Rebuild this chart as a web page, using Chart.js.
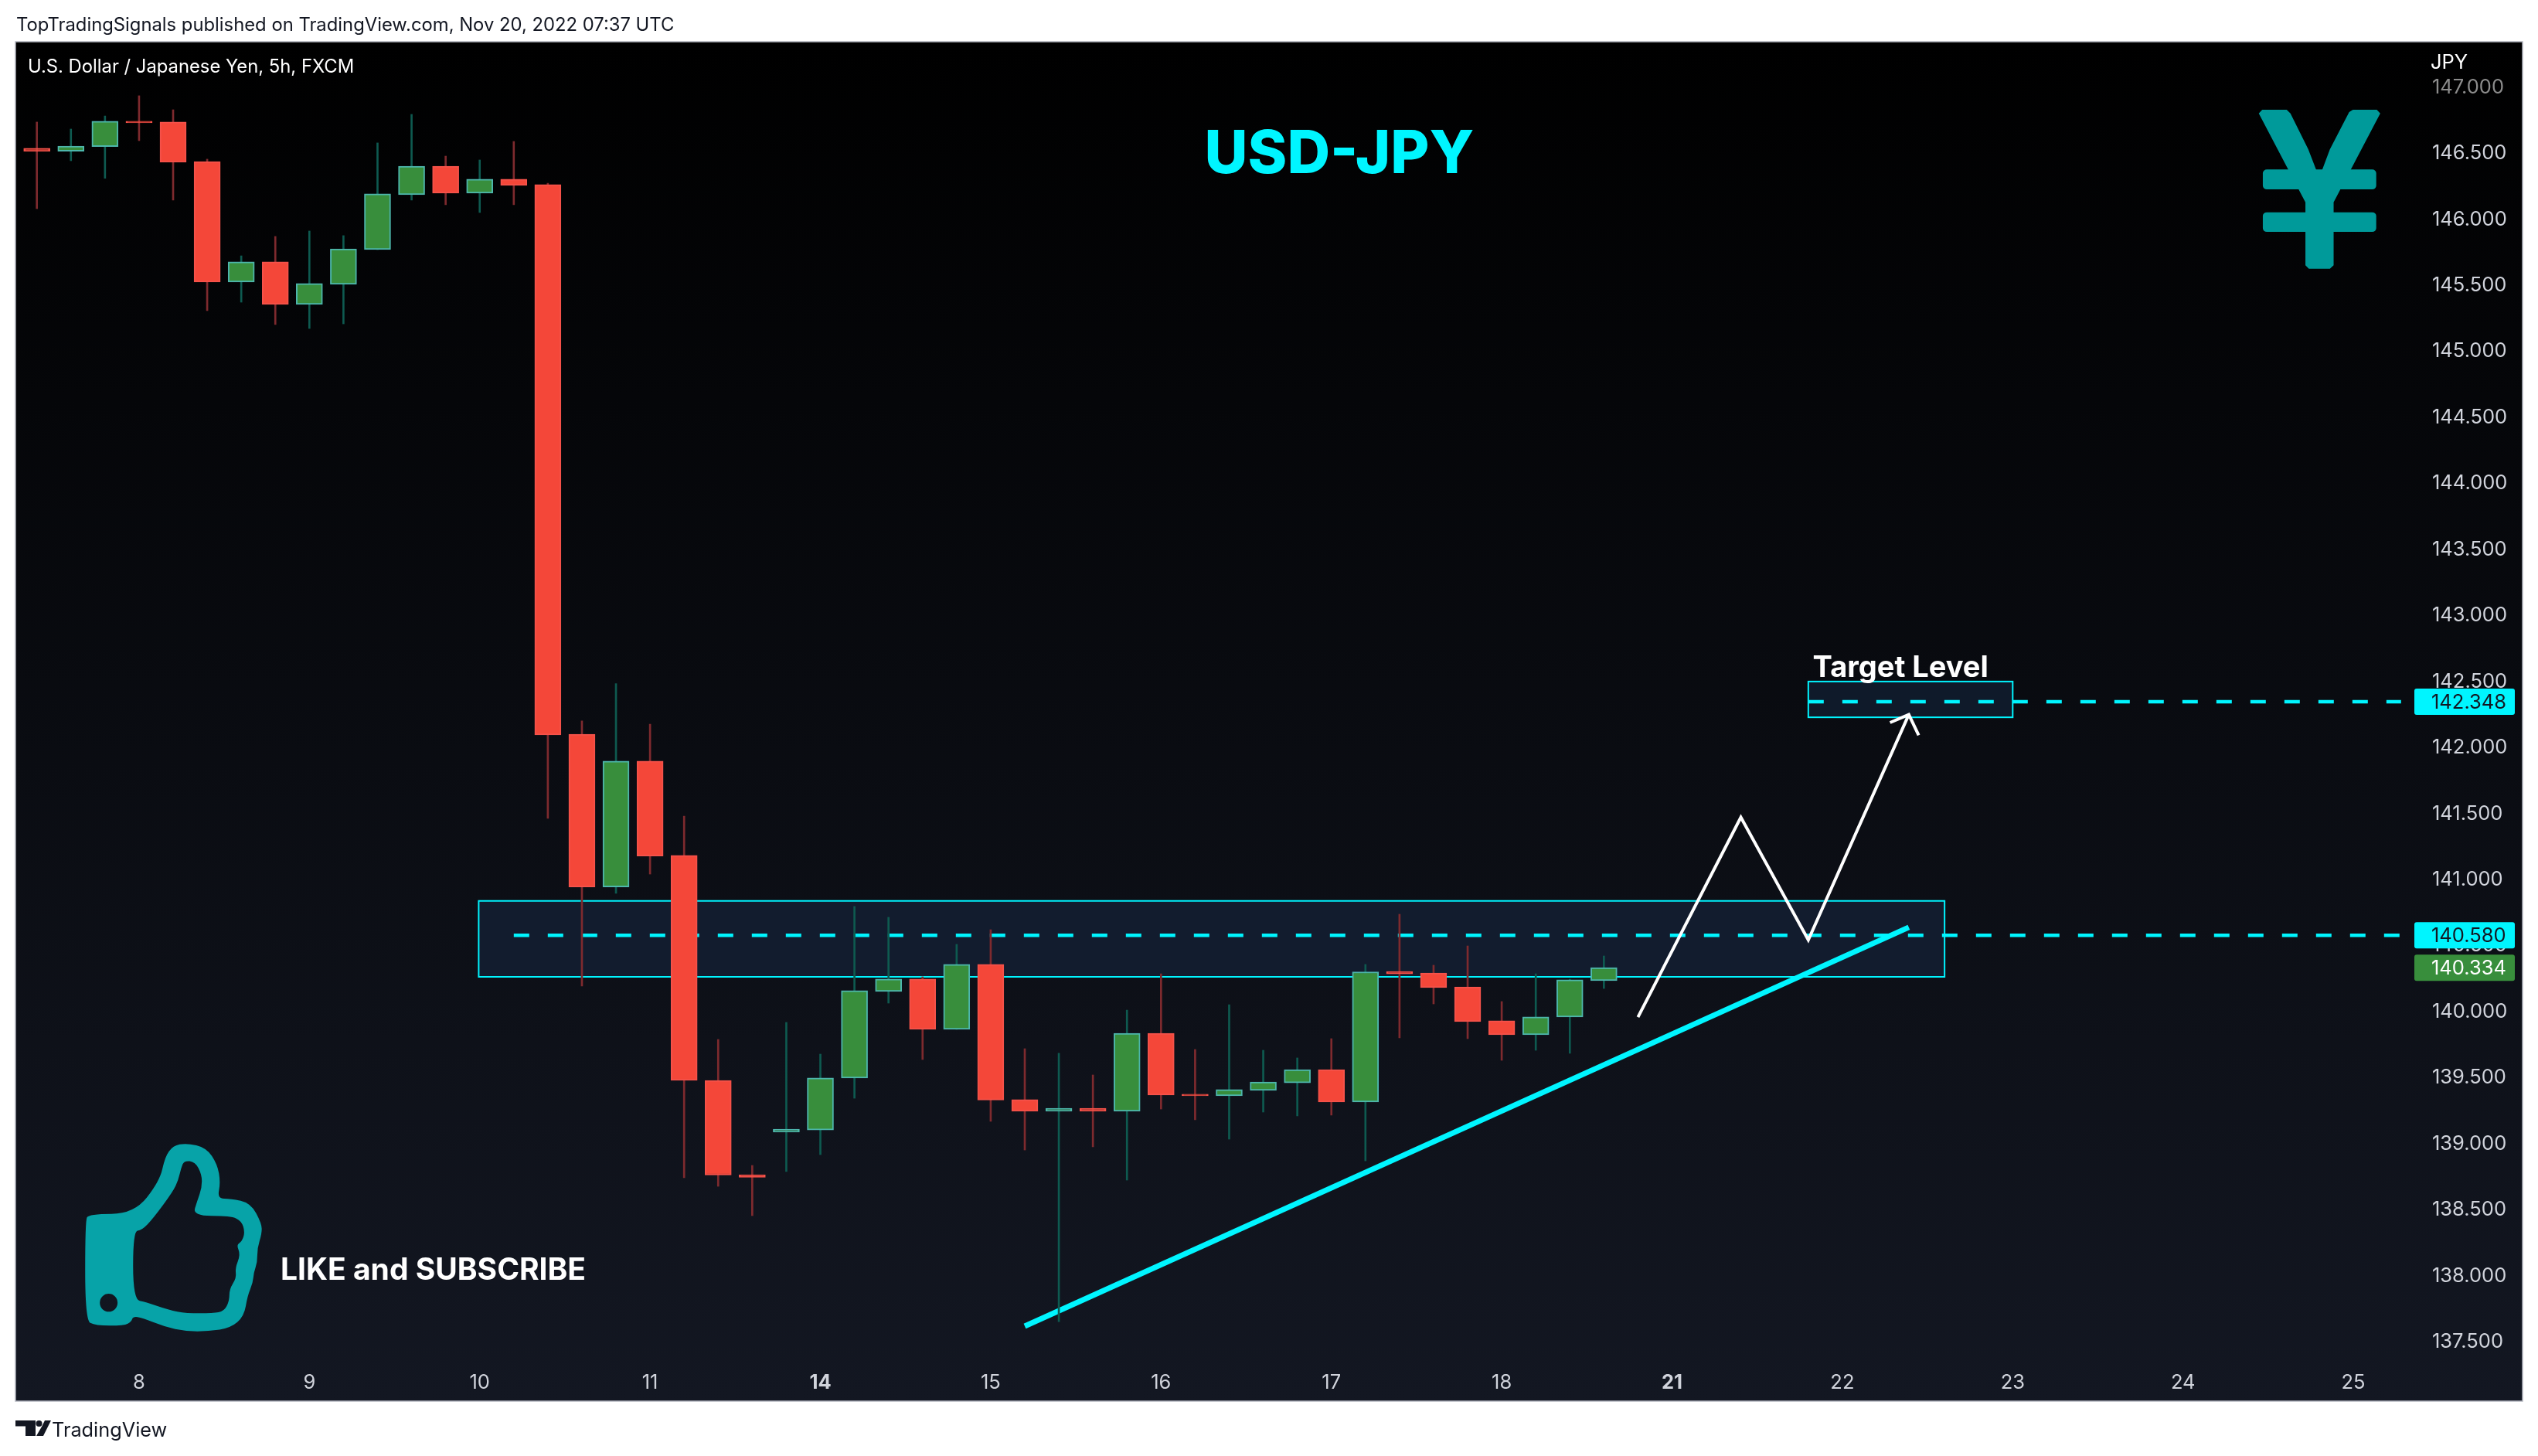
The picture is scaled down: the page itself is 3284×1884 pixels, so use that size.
<!DOCTYPE html>
<html>
<head>
<meta charset="utf-8">
<title>USD-JPY</title>
<script src="https://cdn.jsdelivr.net/npm/chart.js@4/dist/chart.umd.min.js"></script>
<style>
  html, body { margin: 0; padding: 0; background: #fff; }
  body { width: 3284px; height: 1884px; position: relative; overflow: hidden; font-family: Inter, "Noto Sans", sans-serif; }
  canvas { position: absolute; left: 0; top: 0; }
  .page-text { position: absolute; color: #131722; white-space: nowrap; }
</style>
</head>
<body>
<canvas id="priceChart" width="3284" height="1884"></canvas>
<div class="page-text" style="left:21px;top:17px;font-size:23.8px;line-height:30px">TopTradingSignals published on TradingView.com, Nov 20, 2022 07:37 UTC</div>
<div class="page-text" style="left:67px;top:1834px;font-size:25.3px;line-height:32px">TradingView</div>
<script>
// candles, one every 5 hours, index 0 is the first one on the left
const opens = [146.538, 146.516, 146.551, 146.744, 146.737, 146.438, 145.525, 145.678, 145.356, 145.508,
  145.771, 146.187, 146.403, 146.198, 146.304, 146.263, 142.102, 140.946, 141.898, 141.184,
  139.481, 138.767, 139.089, 139.106, 139.499, 140.154, 140.248, 139.867, 140.359, 139.335,
  139.247, 139.27, 139.247, 139.838, 139.376, 139.364, 139.405, 139.463, 139.563, 139.317,
  140.306, 140.294, 140.189, 139.932, 139.826, 139.961, 140.236];
const closes = [146.516, 146.555, 146.743, 146.731, 146.432, 145.525, 145.678, 145.356, 145.514, 145.777,
  146.193, 146.403, 146.198, 146.304, 146.257, 142.097, 140.946, 141.898, 141.179, 139.481,
  138.764, 138.747, 139.112, 139.499, 140.16, 140.248, 139.867, 140.359, 139.332, 139.247,
  139.27, 139.247, 139.838, 139.37, 139.364, 139.411, 139.469, 139.563, 139.317, 140.303,
  140.288, 140.183, 139.926, 139.826, 139.961, 140.242, 140.334];
const highs = [146.737, 146.684, 146.783, 146.936, 146.83, 146.456, 145.724, 145.871, 145.912, 145.877,
  146.579, 146.795, 146.479, 146.45, 146.59, 146.274, 142.202, 142.485, 142.178, 141.482,
  139.791, 138.837, 139.92, 139.68, 140.798, 140.716, 140.265, 140.511, 140.622, 139.721,
  139.686, 139.522, 140.013, 140.288, 139.715, 140.054, 139.709, 139.651, 139.797, 140.359,
  140.739, 140.353, 140.499, 140.078, 140.288, 140.247, 140.423];
const lows = [146.081, 146.444, 146.311, 146.596, 146.146, 145.309, 145.373, 145.204, 145.174, 145.209,
  145.771, 146.146, 146.111, 146.052, 146.111, 141.465, 140.195, 140.897, 141.043, 138.744,
  138.679, 138.457, 138.791, 138.919, 139.346, 140.066, 139.639, 139.867, 139.171, 138.954,
  137.655, 138.978, 138.726, 139.264, 139.183, 139.036, 139.241, 139.212, 139.218, 138.872,
  139.803, 140.06, 139.797, 139.633, 139.709, 139.686, 140.177];

// x axis: a day label every 5 candles, starting at candle 3
const dayLabels = ['8', '9', '10', '11', '14', '15', '16', '17', '18', '21', '22', '23', '24', '25'];
const boldDays = ['14', '21'];
const dayTickStart = 3;
const dayTickStep = 5;
const priceTicks = [137.5, 138, 138.5, 139, 139.5, 140, 140.5, 141, 141.5, 142, 142.5, 143, 143.5, 144, 144.5, 145, 145.5, 146, 146.5, 147];

// drawings on the chart, x is in candle indexes
const trendX = [29, 54.95];
const trendY = [137.62, 140.64];
const pathX = [47, 50.02, 52, 54.95];
const pathY = [139.96, 141.473, 140.544, 142.251];
const arrowX = [54.4, 54.95, 55.24];
const arrowY = [142.19, 142.251, 142.094];
const supportLevel = 140.58;
const targetLevel = 142.348;
const lastClose = 140.334;
const supportZone = [12.97, 56, 140.265, 140.84];
const targetZone = [52, 58, 142.23, 142.501];
const supportLineX = [14, 69.4];
const targetLineX = [52, 69.4];

const upFill = '#388e3c', upBorder = '#4db6ac', upWick = '#0e5a50';
const downFill = '#f44739', downBorder = '#f5524a', downWick = '#7e2a2e';
const cyan = '#00f5ff';

const isUp = closes.map((c, i) => c > opens[i]);

function zip(xs, ys) {
    return xs.map((x, i) => ({ x: x, y: ys[i] }));
}

function lineSet(xs, ys, color, width, order, dash) {
    return {
        type: 'line',
        data: zip(xs, ys),
        borderColor: color,
        borderWidth: width,
        borderDash: dash || [],
        pointRadius: 0,
        tension: 0,
        fill: false,
        order: order
    };
}

// thumb and yen signs
const thumbOuter = [[192, 420], [200, 392], [302, 392], [360, 265], [372, 170], [390, 128], [420, 117], [465, 135], [490, 200], [497, 270], [490, 333],
  [520, 333], [565, 350], [590, 430], [590, 470], [580, 525], [580, 580], [572, 620], [570, 660], [558, 710], [550, 790], [520, 835], [470, 848],
  [420, 848], [370, 830], [320, 795], [300, 790], [296, 810], [280, 826], [215, 826], [192, 805]];
const thumbInner = [[300, 460], [320, 455], [345, 410], [390, 305], [402, 260], [408, 215], [415, 185], [440, 190], [455, 240], [455, 290], [445, 340], [434, 400],
  [520, 400], [545, 420], [552, 465], [545, 500], [533, 512], [542, 550], [530, 603], [533, 640], [517, 685], [517, 730], [505, 770], [480, 778],
  [420, 778], [380, 765], [330, 735], [300, 725]];
const yenShape = [[598, 440], [610, 426], [695, 426], [708, 440], [770, 580], [808, 690], [845, 580], [912, 435], [925, 426], [1008, 426], [1020, 440],
  [858, 785], [858, 1030], [845, 1043], [772, 1043], [760, 1030], [760, 785]];

function smoothPath(ctx, pts) {
    const n = pts.length;
    ctx.moveTo((pts[n - 1][0] + pts[0][0]) / 2, (pts[n - 1][1] + pts[0][1]) / 2);
    pts.forEach((p, i) => {
        const next = pts[(i + 1) % n];
        ctx.quadraticCurveTo(p[0], p[1], (p[0] + next[0]) / 2, (p[1] + next[1]) / 2);
    });
    ctx.closePath();
}

function drawThumb(ctx) {
    ctx.save();
    ctx.translate(0, 1440);
    ctx.scale(1 / 1.742, 1 / 3);
    ctx.fillStyle = '#07a3a8';
    ctx.beginPath();
    smoothPath(ctx, thumbOuter);
    smoothPath(ctx, thumbInner);
    ctx.moveTo(265, 737);
    ctx.ellipse(245, 737, 20, 35, 0, 0, Math.PI * 2);
    ctx.fill('evenodd');
    ctx.restore();
}

function drawYen(ctx) {
    ctx.save();
    ctx.translate(2700, 0);
    ctx.scale(1 / 2.685, 1 / 3);
    ctx.fillStyle = '#009a9a';
    ctx.beginPath();
    yenShape.forEach((p, i) => i ? ctx.lineTo(p[0], p[1]) : ctx.moveTo(p[0], p[1]));
    ctx.closePath();
    ctx.fill();
    ctx.beginPath();
    ctx.roundRect(612, 658, 394, 77, 14);
    ctx.roundRect(612, 824, 394, 76, 14);
    ctx.fill();
    ctx.restore();
}

function drawLogo(ctx) {
    ctx.fillStyle = '#131722';
    ctx.fillRect(20, 1838, 26, 7.5);
    ctx.fillRect(33, 1838, 13, 20);
    ctx.beginPath();
    ctx.arc(50.5, 1842, 4, 0, Math.PI * 2);
    ctx.fill();
    ctx.beginPath();
    ctx.moveTo(47, 1858);
    ctx.lineTo(54, 1846);
    ctx.lineTo(58, 1838);
    ctx.lineTo(66, 1838);
    ctx.lineTo(56, 1858);
    ctx.closePath();
    ctx.fill();
}

function drawZone(ctx, x, y, zone, fill) {
    const left = x.getPixelForValue(zone[0]);
    const right = x.getPixelForValue(zone[1]);
    const top = y.getPixelForValue(zone[3]);
    const bottom = y.getPixelForValue(zone[2]);
    ctx.fillStyle = fill;
    ctx.fillRect(left, top, right - left, bottom - top);
    ctx.strokeStyle = cyan;
    ctx.lineWidth = 2;
    ctx.strokeRect(left, top, right - left, bottom - top);
}

function drawPriceTag(ctx, y, value, bg, fg) {
    const py = y.getPixelForValue(value);
    ctx.fillStyle = bg;
    ctx.beginPath();
    ctx.roundRect(3124, py - 17, 130, 34, 3);
    ctx.fill();
    ctx.fillStyle = fg;
    ctx.font = '25.5px Inter';
    ctx.textAlign = 'left';
    ctx.textBaseline = 'middle';
    ctx.fillText(value.toFixed(3), 3146, py + 1);
}

function drawText(ctx, text, x, y, font, color, align) {
    ctx.fillStyle = color;
    ctx.font = font;
    ctx.textAlign = align || 'left';
    ctx.textBaseline = 'middle';
    ctx.fillText(text, x, y);
}

const frameLeft = 20, frameTop = 54, frameRight = 3264, frameBottom = 1813;

const chartDecor = {
    id: 'chartDecor',
    beforeDraw(chart) {
        const ctx = chart.ctx;
        ctx.save();
        ctx.fillStyle = '#ffffff';
        ctx.fillRect(0, 0, chart.width, chart.height);
        const grad = ctx.createLinearGradient(0, frameTop, 0, frameBottom);
        grad.addColorStop(0, '#000000');
        grad.addColorStop(1, '#131722');
        ctx.fillStyle = grad;
        ctx.fillRect(frameLeft, frameTop, frameRight - frameLeft, frameBottom - frameTop);
        ctx.strokeStyle = '#b2b5be';
        ctx.lineWidth = 1.5;
        ctx.strokeRect(frameLeft, frameTop, frameRight - frameLeft, frameBottom - frameTop);
        drawLogo(ctx);
        ctx.restore();
    },
    beforeDatasetsDraw(chart) {
        const ctx = chart.ctx;
        const { x, y } = chart.scales;
        ctx.save();
        drawZone(ctx, x, y, supportZone, '#121c2e');
        drawZone(ctx, x, y, targetZone, '#0f1a2a');
        ctx.restore();
    },
    afterDraw(chart) {
        const ctx = chart.ctx;
        const { x, y } = chart.scales;
        ctx.save();
        drawYen(ctx);
        drawThumb(ctx);
        drawText(ctx, 'U.S. Dollar / Japanese Yen, 5h, FXCM', 36, 87, '23.8px Inter', '#ffffff');
        drawText(ctx, 'JPY', 3145, 81, '25.5px Inter', '#ffffff');
        drawText(ctx, 'USD-JPY', 1733, 201, '800 77px Inter', cyan, 'center');
        drawText(ctx, 'LIKE and SUBSCRIBE', 363, 1644, '700 39px Inter', '#ffffff');
        drawText(ctx, 'Target Level', x.getPixelForValue(52.13), y.getPixelForValue(142.6), '700 38px Inter', '#ffffff');
        drawPriceTag(ctx, y, targetLevel, cyan, '#131722');
        drawPriceTag(ctx, y, supportLevel, cyan, '#131722');
        drawPriceTag(ctx, y, lastClose, upFill, '#ffffff');
        ctx.restore();
    }
};

new Chart(document.getElementById('priceChart'), {
    type: 'bar',
    data: {
        datasets: [
            {
                // candle bodies
                data: zip(opens.map((_, i) => i), opens.map((o, i) => [o, closes[i]])),
                backgroundColor: isUp.map(u => u ? upFill : downFill),
                borderColor: isUp.map(u => u ? upBorder : downBorder),
                borderWidth: 2,
                borderSkipped: false,
                barThickness: 34,
                order: 0
            },
            {
                // wicks
                data: zip(lows.map((_, i) => i), lows.map((l, i) => [l, highs[i]])),
                backgroundColor: isUp.map(u => u ? upWick : downWick),
                borderWidth: 0,
                barThickness: 2,
                order: 1
            },
            lineSet(trendX, trendY, cyan, 7, 2),
            lineSet(pathX, pathY, '#ffffff', 4, 3),
            lineSet(arrowX, arrowY, '#ffffff', 4, 3),
            lineSet(supportLineX, [supportLevel, supportLevel], cyan, 4.5, 4, [20, 24]),
            lineSet(targetLineX, [targetLevel, targetLevel], cyan, 4.5, 4, [20, 24])
        ]
    },
    plugins: [chartDecor],
    options: {
        responsive: false,
        animation: false,
        devicePixelRatio: 1,
        grouped: false,
        layout: { padding: { left: frameLeft, top: frameTop, right: 3284 - frameRight, bottom: 1884 - frameBottom } },
        plugins: { legend: { display: false }, tooltip: { enabled: false } },
        scales: {
            x: {
                type: 'linear',
                offset: false,
                min: -0.628,
                max: 69.79,
                grid: { display: false },
                border: { display: false },
                afterBuildTicks(scale) {
                    scale.ticks = dayLabels.map((_, i) => ({ value: dayTickStart + i * dayTickStep }));
                },
                afterFit(scale) { scale.height = 51; },
                ticks: {
                    autoSkip: false,
                    maxRotation: 0,
                    padding: 4,
                    color: '#d1d4dc',
                    font: ctx => ({ family: 'Inter', size: 25.5, weight: boldDays.includes(dayLabels[ctx.index]) ? '700' : '400' }),
                    callback: (value, index) => dayLabels[index]
                }
            },
            y: {
                type: 'linear',
                position: 'right',
                offset: false,
                beginAtZero: false,
                min: 137.351,
                max: 147.345,
                grid: { display: false },
                border: { display: false },
                afterBuildTicks(scale) {
                    scale.ticks = priceTicks.map(v => ({ value: v }));
                },
                afterFit(scale) { scale.width = 140; },
                ticks: {
                    autoSkip: false,
                    padding: 15,
                    crossAlign: 'near',
                    color: ctx => ctx.tick.value === 147 ? '#8c8c8c' : '#d1d4dc',
                    font: { family: 'Inter', size: 25.5 },
                    callback: value => value.toFixed(3)
                }
            }
        }
    }
});
</script>
</body>
</html>
